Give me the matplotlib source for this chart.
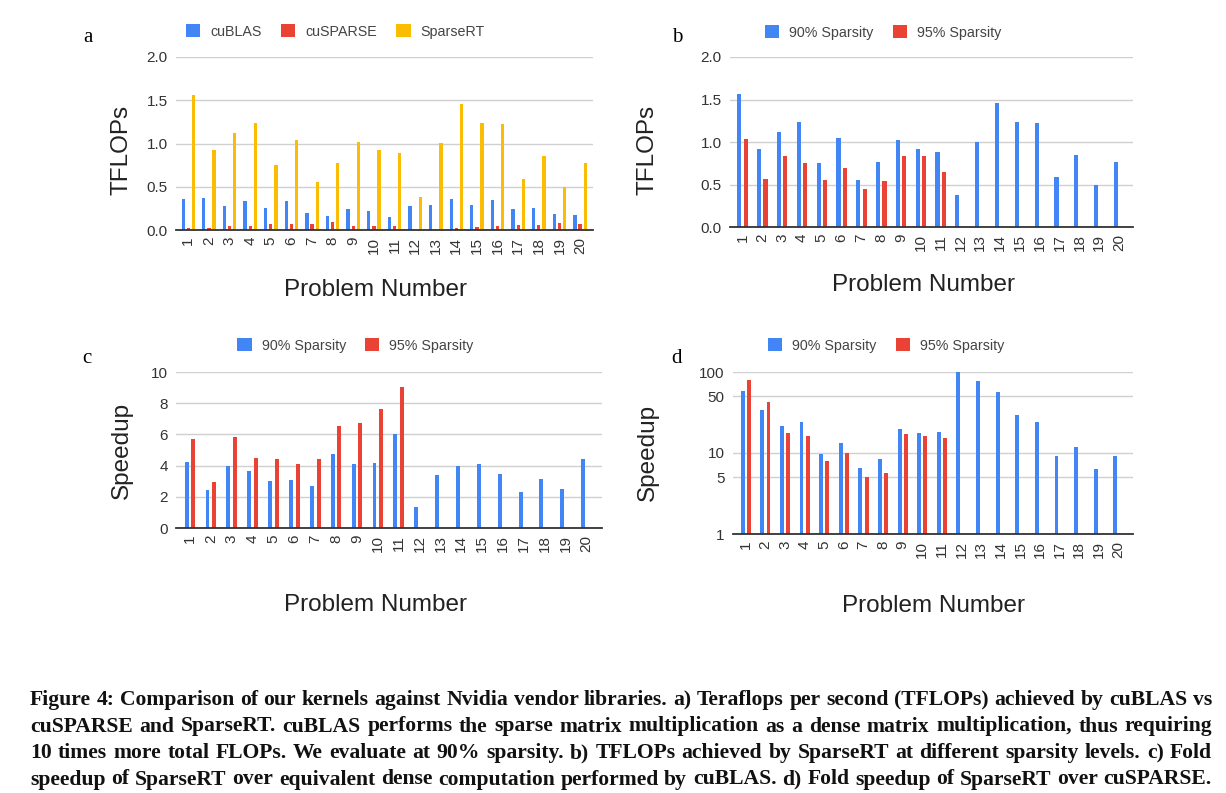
import numpy as np
import matplotlib
matplotlib.use('Agg')
import matplotlib.pyplot as plt
from matplotlib.patches import Patch

W, H = 1226, 793

# ---- data ----
problems = [str(i) for i in range(1, 21)]

# a) TFLOPs at 90% sparsity
tflops_cublas = [0.355, 0.375, 0.28, 0.33, 0.25, 0.33, 0.2, 0.16, 0.245, 0.215,
                 0.145, 0.275, 0.29, 0.36, 0.29, 0.345, 0.245, 0.26, 0.19, 0.17]
tflops_cusparse = [0.02, 0.02, 0.045, 0.045, 0.075, 0.075, 0.075, 0.09, 0.045, 0.045,
                   0.045, 0.0, 0.0, 0.02, 0.03, 0.045, 0.06, 0.06, 0.078, 0.075]
tflops_sparsert = [1.56, 0.92, 1.12, 1.235, 0.755, 1.045, 0.555, 0.77, 1.02, 0.92,
                   0.885, 0.38, 1.005, 1.455, 1.235, 1.225, 0.585, 0.85, 0.495, 0.77]

# b) SparseRT TFLOPs at 95% sparsity (only problems 1-11)
tflops_sparsert_95 = [1.035, 0.565, 0.83, 0.753, 0.553, 0.698, 0.447, 0.537, 0.83, 0.83, 0.65]

# c) speedup over cuBLAS
speedup_dense_90 = [4.26, 2.45, 3.98, 3.64, 3.0, 3.09, 2.7, 4.74, 4.1, 4.19,
                    6.02, 1.34, 3.4, 3.96, 4.1, 3.47, 2.28, 3.17, 2.53, 4.43]
speedup_dense_95 = [5.7, 2.98, 5.85, 4.51, 4.43, 4.1, 4.43, 6.55, 6.74, 7.6, 9.04]

# d) speedup over cuSPARSE (log scale)
speedup_sparse_90 = [57.8, 34.4, 21.6, 24.2, 9.6, 13.3, 6.56, 8.4, 19.7, 17.7,
                     18.2, 100, 77.4, 56.1, 29.8, 24.2, 9.3, 11.9, 6.32, 9.3]
speedup_sparse_95 = [79.7, 42.3, 17.7, 16.3, 7.93, 10.0, 4.99, 5.7, 17.1, 16.3, 15.4]

caption_lines = [
    "Figure 4: Comparison of our kernels against Nvidia vendor libraries. a) Teraflops per second (TFLOPs) achieved by cuBLAS vs",
    "cuSPARSE and SparseRT. cuBLAS performs the sparse matrix multiplication as a dense matrix multiplication, thus requiring",
    "10 times more total FLOPs. We evaluate at 90% sparsity. b) TFLOPs achieved by SparseRT at different sparsity levels. c) Fold",
    "speedup of SparseRT over equivalent dense computation performed by cuBLAS. d) Fold speedup of SparseRT over cuSPARSE.",
]

BLUE = '#4285F4'
RED = '#EA4335'
YELLOW = '#FBBC04'
SANS = 'Liberation Sans'
SERIF = 'Liberation Serif'

fig = plt.figure(figsize=(W / 100, H / 100), dpi=100)


def make_axes(left, right, top, bottom):
    ax = fig.add_axes([left / W, 1 - bottom / H, (right - left) / W, (bottom - top) / H])
    for s in ['top', 'right', 'left']:
        ax.spines[s].set_visible(False)
    ax.spines['bottom'].set_color('#333333')
    ax.spines['bottom'].set_linewidth(1.3)
    ax.spines['bottom'].set_zorder(5)
    ax.yaxis.grid(True, color='#d0d0d0', linewidth=1.0)
    ax.set_axisbelow(True)
    ax.tick_params(length=0, labelsize=11, colors='#333333')
    ax.tick_params(axis='y', pad=6)
    ax.tick_params(axis='x', pad=5)
    x = np.arange(1, 21)
    ax.set_xticks(x)
    ax.set_xticklabels(problems, rotation=90, fontfamily=SANS)
    return ax


def add_labels(ylabel, ypos, xpos):
    fig.text(ypos[0] / W, 1 - ypos[1] / H, ylabel, rotation=90, ha='center', va='center',
             fontsize=17.5, family=SANS, color='#222222')
    fig.text(xpos[0] / W, 1 - xpos[1] / H, 'Problem Number', ha='center', va='center',
             fontsize=17.5, family=SANS, color='#222222')


def add_legend(labels, colors, cx, cy):
    handles = [Patch(facecolor=c, edgecolor='none') for c in colors]
    leg = fig.legend(handles, labels, loc='center', bbox_to_anchor=(cx / W, 1 - cy / H),
                     ncol=len(labels), frameon=False, handlelength=1.0, handleheight=1.0,
                     handletextpad=0.7, columnspacing=1.35,
                     prop={'family': SANS, 'size': 10.3})
    for t in leg.get_texts():
        t.set_color('#444444')


x = np.arange(1, 21)
x11 = np.arange(1, 12)

# ---- a ----
ax = make_axes(176, 593, 57, 230)
bw = 0.16
ax.bar(x - 0.25, tflops_cublas, bw, color=BLUE)
ax.bar(x, tflops_cusparse, bw, color=RED)
ax.bar(x + 0.25, tflops_sparsert, bw, color=YELLOW)
ax.set_ylim(0, 2.0)
ax.set_yticks([0, 0.5, 1.0, 1.5, 2.0])
ax.set_yticklabels(['0.0', '0.5', '1.0', '1.5', '2.0'], fontfamily=SANS)
ax.set_xlim(0.4, 20.63)
add_labels('TFLOPs', (122, 150), (375, 290))
add_legend(['cuBLAS', 'cuSPARSE', 'SparseRT'], [BLUE, RED, YELLOW], 335.5, 31.5)

# ---- b ----
ax = make_axes(730, 1133, 57, 227)
bw = 0.21
ax.bar(x - 0.16, tflops_sparsert, bw, color=BLUE)
ax.bar(x11 + 0.16, tflops_sparsert_95, bw, color=RED)
ax.set_ylim(0, 2.0)
ax.set_yticks([0, 0.5, 1.0, 1.5, 2.0])
ax.set_yticklabels(['0.0', '0.5', '1.0', '1.5', '2.0'], fontfamily=SANS)
ax.set_xlim(0.37, 20.7)
add_labels('TFLOPs', (648, 150), (924, 285))
add_legend(['90% Sparsity', '95% Sparsity'], [BLUE, RED], 883, 32.5)

# ---- c ----
ax = make_axes(176, 602, 372, 528)
bw = 0.19
ax.bar(x - 0.16, speedup_dense_90, bw, color=BLUE)
ax.bar(x11 + 0.16, speedup_dense_95, bw, color=RED)
ax.set_ylim(0, 10)
ax.set_yticks([0, 2, 4, 6, 8, 10])
ax.set_yticklabels(['0', '2', '4', '6', '8', '10'], fontfamily=SANS)
ax.set_xlim(0.33, 20.74)
add_labels('Speedup', (122, 450), (376, 605))
add_legend(['90% Sparsity', '95% Sparsity'], [BLUE, RED], 355.5, 345.5)

# ---- d ----
ax = make_axes(733, 1133, 372, 534)
bw = 0.2
ax.set_yscale('log')
ax.bar(x - 0.16, speedup_sparse_90, bw, color=BLUE)
ax.bar(x11 + 0.16, speedup_sparse_95, bw, color=RED)
ax.set_ylim(1, 100)
ax.set_yticks([1, 5, 10, 50, 100])
ax.set_yticklabels(['1', '5', '10', '50', '100'], fontfamily=SANS)
ax.minorticks_off()
ax.set_xlim(0.35, 20.74)
add_labels('Speedup', (648, 452), (933, 606))
add_legend(['90% Sparsity', '95% Sparsity'], [BLUE, RED], 886, 345.5)

# panel letters
for letter, px, py in [('a', 88, 37), ('b', 677, 37), ('c', 87, 358), ('d', 677, 358)]:
    fig.text(px / W, 1 - py / H, letter, ha='center', va='center', fontsize=15, family=SERIF)

# ---- caption, justified between x=30 and x=1212 ----
renderer = fig.canvas.get_renderer()
cap_left, cap_right = 30, 1212
baselines = [705, 731.5, 758, 784.5]
base_size = 14.0


def text_width(s, size):
    t = fig.text(0, 0, s, fontsize=size, weight='bold', family=SERIF)
    w = t.get_window_extent(renderer).width
    t.remove()
    return w


size = min(base_size * (cap_right - cap_left) / text_width(line, base_size) for line in caption_lines)
for line, yb in zip(caption_lines, baselines):
    words = line.split(' ')
    widths = [text_width(wd, size) for wd in words]
    gap = (cap_right - cap_left - sum(widths)) / (len(words) - 1)
    xpos = cap_left
    for wd, wdt in zip(words, widths):
        fig.text(xpos / W, 1 - yb / H, wd, fontsize=size, weight='bold', family=SERIF,
                 ha='left', va='baseline', color='#111111')
        xpos += wdt + gap

fig.savefig('out.png', dpi=100)
